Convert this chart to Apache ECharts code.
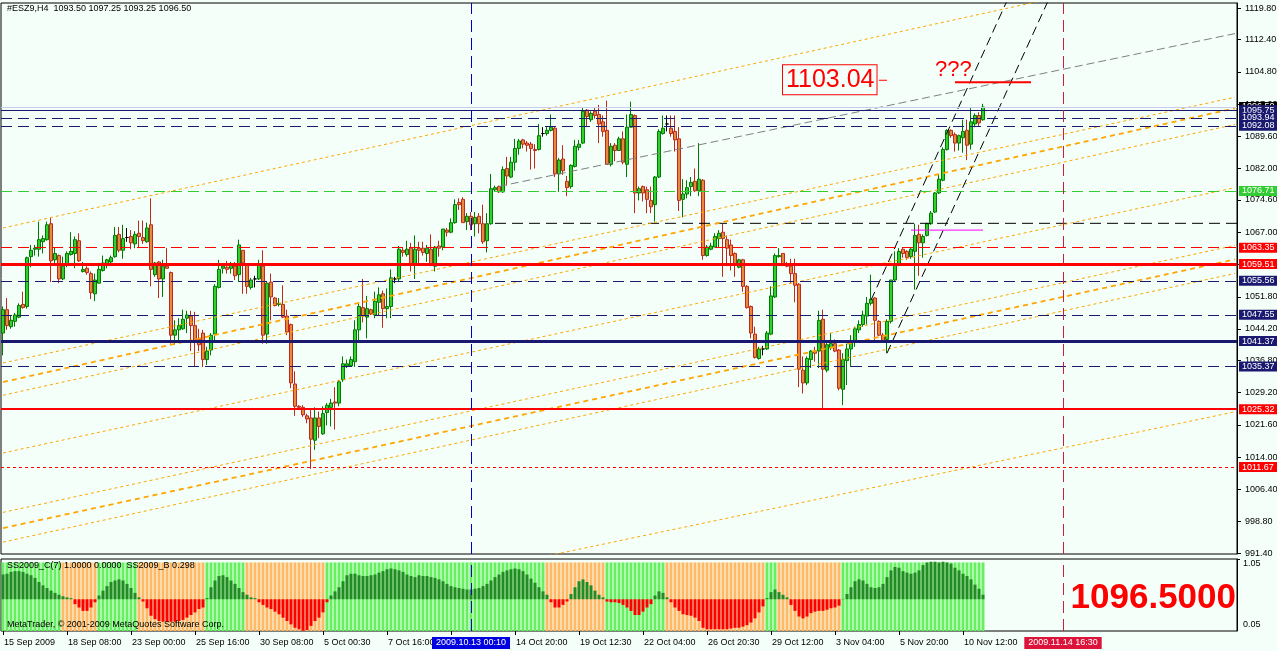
<!DOCTYPE html>
<html>
<head>
<meta charset="utf-8">
<title>#ESZ9,H4</title>
<script src="https://cdn.jsdelivr.net/npm/echarts@6/dist/echarts.min.js"></script>
<style>
  html, body { margin: 0; padding: 0; background: #F5FFFA; }
  #chart { width: 1277px; height: 651px; }
</style>
</head>
<body>
<div id="chart"></div>
<script>
// ---- H4 bars: [open, close, low, high] ----
const candles = [
  [1043.25,1048.75,1038.0,1049.5],[1048.75,1045.0,1044.0,1051.5],[1044.75,1046.25,1044.25,1047.5],[1046.0,1047.5,1044.75,1048.0],
  [1047.0,1049.75,1046.75,1050.25],[1050.0,1049.25,1049.0,1053.0],[1049.5,1061.0,1049.0,1061.25],[1061.25,1062.75,1058.75,1064.0],
  [1063.0,1063.25,1061.5,1064.0],[1063.0,1065.25,1061.25,1069.5],[1064.75,1065.5,1062.0,1066.25],[1065.25,1068.75,1065.0,1069.5],
  [1069.0,1060.25,1055.25,1070.5],[1060.5,1062.0,1059.25,1063.5],[1061.5,1056.0,1055.0,1061.75],[1056.0,1059.0,1055.75,1061.25],
  [1059.25,1062.0,1058.75,1062.5],[1061.75,1062.5,1061.5,1067.0],[1062.0,1065.25,1058.5,1066.0],[1065.0,1060.25,1060.0,1066.75],
  [1057.75,1058.25,1057.5,1060.0],[1058.5,1057.5,1057.0,1059.0],[1057.25,1052.75,1051.25,1057.75],[1052.5,1055.75,1050.75,1057.25],
  [1055.0,1058.25,1055.0,1059.75],[1058.0,1059.75,1057.75,1061.5],[1059.25,1060.5,1058.5,1060.75],[1060.0,1061.0,1059.75,1061.5],
  [1061.25,1066.25,1061.0,1068.25],[1066.5,1062.75,1062.25,1068.25],[1062.75,1065.5,1060.75,1068.75],[1065.75,1065.75,1064.75,1068.0],
  [1066.0,1064.5,1063.0,1067.5],[1064.25,1066.5,1063.25,1067.25],[1066.75,1066.0,1063.25,1069.75],[1065.75,1065.0,1064.25,1069.75],
  [1064.75,1068.0,1064.5,1069.25],[1068.75,1058.25,1054.25,1075.0],[1057.0,1059.75,1056.5,1060.0],[1060.0,1056.0,1051.5,1060.25],
  [1056.0,1059.0,1051.75,1060.5],[1059.0,1058.5,1058.5,1063.25],[1057.5,1042.75,1040.75,1057.75],[1042.75,1044.0,1040.5,1046.25],
  [1044.0,1045.0,1041.5,1046.75],[1044.25,1046.5,1044.0,1048.75],[1046.75,1047.5,1043.25,1048.5],[1047.25,1045.0,1039.0,1048.5],
  [1045.0,1041.5,1035.5,1048.25],[1041.75,1040.5,1039.0,1044.25],[1043.25,1037.0,1035.25,1044.0],[1037.0,1039.0,1035.75,1040.0],
  [1039.25,1042.75,1038.0,1043.25],[1043.0,1054.25,1041.5,1054.75],[1054.0,1058.25,1053.75,1060.5],[1058.5,1059.0,1057.25,1059.75],
  [1058.75,1058.25,1057.25,1060.25],[1058.5,1059.25,1057.25,1060.0],[1059.0,1056.75,1055.75,1060.0],[1057.0,1064.0,1055.25,1065.25],
  [1062.75,1059.75,1052.5,1062.75],[1059.5,1054.25,1052.5,1059.75],[1054.0,1055.75,1053.5,1056.25],[1056.0,1056.0,1054.0,1056.75],
  [1056.0,1059.25,1055.75,1060.5],[1059.0,1042.75,1040.75,1062.75],[1043.0,1055.0,1040.75,1055.25],[1055.25,1051.75,1046.25,1057.25],
  [1051.5,1049.75,1049.5,1051.75],[1050.0,1050.25,1049.5,1051.5],[1050.0,1047.0,1046.75,1054.5],[1047.25,1043.5,1042.75,1048.75],
  [1045.25,1031.5,1030.25,1045.5],[1031.25,1026.0,1023.75,1034.25],[1026.0,1025.75,1025.5,1026.25],[1025.75,1024.0,1023.5,1026.25],
  [1023.75,1023.0,1022.0,1024.25],[1023.25,1018.25,1011.25,1025.25],[1018.0,1023.25,1015.75,1025.75],[1023.25,1021.25,1018.5,1024.75],
  [1019.5,1024.25,1019.25,1026.0],[1024.5,1026.25,1021.5,1026.75],[1025.75,1026.75,1021.25,1027.75],[1027.0,1026.75,1020.5,1030.5],
  [1026.75,1031.75,1026.0,1032.25],[1032.25,1036.0,1031.75,1037.75],[1035.5,1036.0,1035.0,1037.0],[1035.5,1037.0,1035.25,1037.75],
  [1036.5,1044.0,1035.25,1046.25],[1044.0,1049.5,1041.5,1050.5],[1049.25,1047.25,1045.75,1056.0],[1047.0,1049.0,1042.0,1052.0],
  [1048.75,1047.75,1047.5,1049.0],[1047.5,1050.75,1046.75,1053.0],[1050.5,1052.25,1047.5,1054.0],[1052.5,1049.0,1044.5,1053.25],
  [1049.0,1049.5,1046.75,1053.75],[1049.5,1056.25,1046.75,1058.25],[1056.0,1056.0,1055.0,1056.5],[1056.0,1063.0,1055.25,1063.75],
  [1062.75,1062.25,1061.25,1063.5],[1061.75,1063.0,1061.25,1065.0],[1063.25,1059.25,1057.75,1064.5],[1059.25,1063.0,1056.0,1066.25],
  [1063.25,1062.75,1059.75,1064.75],[1063.25,1062.25,1061.5,1064.75],[1062.0,1063.25,1060.0,1064.0],[1063.0,1059.25,1059.0,1066.5],
  [1059.0,1063.5,1057.75,1063.75],[1063.75,1063.25,1061.25,1065.0],[1063.5,1067.75,1062.75,1067.75],[1067.5,1067.0,1066.0,1068.0],
  [1067.0,1069.25,1066.75,1070.25],[1069.25,1073.5,1069.0,1074.75],[1074.0,1073.5,1072.25,1075.0],[1074.75,1069.25,1069.25,1075.25],
  [1069.5,1070.75,1067.5,1071.5],[1070.75,1068.75,1067.5,1071.75],[1069.0,1070.5,1066.0,1071.75],[1070.75,1069.0,1066.75,1071.5],
  [1069.0,1064.75,1064.25,1073.5],[1065.0,1069.0,1062.25,1071.5],[1069.0,1077.25,1068.75,1080.75],[1077.0,1077.5,1076.5,1078.0],
  [1077.75,1076.5,1076.25,1078.0],[1076.5,1081.75,1076.25,1082.5],[1082.0,1080.25,1078.0,1084.75],[1080.0,1083.5,1079.75,1084.75],
  [1083.5,1086.75,1081.5,1089.0],[1086.75,1088.5,1085.25,1089.0],[1088.75,1087.75,1086.75,1089.0],[1088.0,1087.5,1086.0,1088.5],
  [1087.75,1086.75,1081.75,1088.25],[1086.5,1086.25,1082.0,1087.75],[1086.5,1089.75,1086.25,1092.5],[1090.25,1090.25,1089.5,1091.75],
  [1090.25,1091.0,1089.75,1092.0],[1091.0,1091.75,1090.75,1094.75],[1091.5,1080.75,1080.0,1092.0],[1080.75,1084.0,1076.5,1084.5],
  [1084.25,1081.5,1080.5,1087.5],[1079.0,1077.5,1075.5,1080.25],[1077.75,1082.75,1077.25,1083.0],[1082.5,1087.25,1082.25,1088.75],
  [1087.0,1087.75,1086.25,1088.75],[1088.0,1095.5,1087.75,1096.25],[1095.75,1094.25,1091.75,1096.0],[1093.5,1095.0,1093.0,1095.5],
  [1095.5,1094.5,1093.75,1096.25],[1094.75,1092.5,1088.0,1097.0],[1093.0,1090.75,1089.5,1094.5],[1091.0,1083.0,1083.0,1098.0],
  [1083.0,1087.25,1082.5,1088.0],[1087.5,1086.25,1083.75,1088.0],[1086.25,1089.0,1086.25,1089.5],[1089.0,1083.5,1083.0,1090.75],
  [1083.0,1091.75,1080.0,1094.75],[1091.75,1094.75,1091.75,1097.75],[1094.5,1076.25,1071.5,1094.75],[1076.25,1077.25,1074.5,1077.75],
  [1077.75,1076.25,1074.25,1078.0],[1077.0,1074.75,1071.5,1077.75],[1074.5,1073.0,1071.5,1077.75],[1073.5,1080.0,1069.5,1080.25],
  [1080.0,1090.75,1079.75,1091.25],[1090.25,1091.5,1090.0,1094.5],[1092.5,1092.5,1090.75,1094.5],[1091.5,1090.25,1089.5,1094.5],
  [1090.75,1088.75,1086.0,1094.5],[1089.0,1074.5,1072.0,1091.75],[1074.75,1076.0,1070.5,1079.5],[1076.0,1077.5,1075.0,1079.25],
  [1077.75,1078.75,1075.5,1080.0],[1079.0,1076.75,1076.5,1082.0],[1076.75,1079.5,1075.5,1088.0],[1079.25,1061.5,1060.5,1079.5],
  [1061.5,1063.5,1061.25,1064.0],[1063.0,1063.75,1062.75,1064.5],[1063.5,1066.0,1063.5,1066.75],[1065.5,1066.75,1063.5,1067.5],
  [1067.0,1065.5,1056.5,1069.0],[1065.25,1063.25,1059.0,1066.25],[1064.0,1061.5,1058.0,1065.25],[1062.0,1059.5,1056.5,1062.25],
  [1058.75,1060.5,1058.5,1060.75],[1060.5,1054.25,1053.0,1060.75],[1054.25,1049.25,1049.0,1054.5],[1049.5,1043.25,1042.0,1049.75],
  [1043.0,1037.5,1037.25,1044.75],[1037.25,1039.5,1037.0,1040.0],[1039.5,1039.5,1038.0,1040.25],[1039.5,1043.25,1039.25,1043.75],
  [1043.0,1052.0,1042.75,1054.25],[1051.75,1061.5,1051.5,1062.0],[1061.25,1061.5,1061.0,1063.25],[1062.0,1059.25,1059.0,1062.0],
  [1059.25,1059.0,1058.75,1060.0],[1059.0,1057.25,1055.0,1060.75],[1057.25,1054.5,1050.5,1060.75],[1054.75,1034.75,1030.5,1055.0],
  [1034.5,1031.5,1029.0,1037.75],[1031.5,1037.25,1031.0,1037.75],[1037.0,1039.0,1035.0,1039.25],[1039.0,1038.5,1036.5,1040.0],
  [1039.0,1046.25,1035.0,1048.5],[1046.5,1034.75,1025.5,1048.75],[1034.5,1040.5,1034.0,1041.25],[1039.75,1040.75,1039.25,1043.25],
  [1040.75,1039.0,1038.75,1041.75],[1039.25,1030.25,1029.75,1039.5],[1030.0,1037.0,1026.25,1038.5],[1036.75,1039.5,1031.0,1040.75],
  [1039.5,1041.5,1035.25,1042.75],[1041.5,1044.25,1040.0,1044.75],[1044.0,1045.25,1043.25,1046.25],[1045.25,1047.5,1044.75,1048.5],
  [1047.25,1050.25,1045.25,1051.75],[1050.25,1051.25,1049.75,1057.0],[1051.5,1046.25,1041.5,1051.75],[1046.0,1042.75,1042.5,1046.25],
  [1042.75,1041.5,1041.5,1043.25],[1041.75,1046.0,1038.5,1046.5],[1046.0,1055.75,1045.5,1055.75],[1055.75,1059.25,1055.5,1062.5],
  [1059.25,1062.5,1059.0,1063.25],[1063.0,1062.0,1061.0,1063.25],[1062.5,1061.0,1060.5,1062.75],[1061.25,1063.0,1060.75,1063.25],
  [1062.5,1066.25,1053.5,1069.0],[1066.5,1064.5,1056.75,1068.75],[1064.5,1066.0,1061.0,1066.5],[1066.25,1069.0,1066.0,1069.25],
  [1069.0,1071.5,1068.75,1072.0],[1071.75,1076.25,1071.5,1076.5],[1076.25,1079.5,1076.0,1080.5],[1079.25,1086.5,1079.0,1087.0],
  [1086.5,1091.0,1086.25,1091.25],[1091.0,1089.75,1089.25,1091.25],[1090.0,1088.0,1086.0,1090.5],[1088.0,1089.75,1086.25,1090.0],
  [1089.25,1090.75,1085.75,1093.5],[1091.0,1087.5,1084.0,1093.5],[1087.75,1093.0,1086.5,1096.25],[1092.5,1094.5,1091.75,1095.0],
  [1094.5,1092.75,1092.0,1095.25],[1093.5,1096.5,1093.25,1097.25]
];

// SS2009_C histogram, one value per bar
const osc = [
  0.66,0.68,0.73,0.75,0.75,0.73,0.68,0.64,0.57,0.46,
  0.37,0.30,0.23,0.17,0.12,0.08,0.05,0.03,-0.13,-0.22,
  -0.31,-0.31,-0.22,-0.08,0.10,0.23,0.35,0.46,0.50,0.53,
  0.50,0.41,0.30,0.17,0.05,-0.06,-0.24,-0.44,-0.53,-0.58,
  -0.60,-0.60,-0.60,-0.60,-0.58,-0.55,-0.49,-0.42,-0.35,-0.26,
  -0.22,0.03,0.32,0.50,0.62,0.64,0.59,0.50,0.41,0.30,
  0.19,0.12,0.05,0.03,-0.08,-0.15,-0.22,-0.26,-0.33,-0.40,
  -0.49,-0.58,-0.67,-0.76,-0.80,-0.84,-0.82,-0.71,-0.58,-0.49,
  -0.35,-0.08,0.10,0.21,0.32,0.48,0.64,0.68,0.68,0.64,
  0.62,0.62,0.64,0.66,0.71,0.75,0.80,0.82,0.80,0.77,
  0.73,0.66,0.62,0.59,0.64,0.62,0.62,0.59,0.57,0.53,
  0.48,0.41,0.35,0.32,0.30,0.28,0.26,0.26,0.28,0.30,
  0.35,0.41,0.50,0.59,0.66,0.73,0.77,0.80,0.82,0.80,
  0.75,0.66,0.55,0.44,0.32,0.21,0.12,-0.08,-0.22,-0.22,
  -0.15,-0.06,0.14,0.32,0.48,0.53,0.46,0.37,0.23,0.12,
  0.05,-0.06,-0.08,-0.08,-0.10,-0.15,-0.22,-0.31,-0.42,-0.42,
  -0.33,-0.22,-0.13,0.10,0.21,0.17,0.05,-0.08,-0.22,-0.31,
  -0.40,-0.42,-0.44,-0.49,-0.58,-0.76,-0.80,-0.80,-0.80,-0.80,
  -0.80,-0.80,-0.78,-0.76,-0.76,-0.73,-0.69,-0.62,-0.51,-0.35,
  -0.19,0.03,0.19,0.26,0.19,0.12,0.05,-0.15,-0.31,-0.46,
  -0.51,-0.46,-0.37,-0.33,-0.31,-0.31,-0.28,-0.24,-0.22,-0.17,
  0.01,0.14,0.32,0.48,0.53,0.50,0.41,0.32,0.30,0.32,
  0.41,0.59,0.77,0.86,0.84,0.75,0.71,0.68,0.71,0.77,
  0.91,0.98,1.00,1.00,0.98,1.00,0.98,0.95,0.84,0.77,
  0.68,0.62,0.53,0.39,0.28,0.12
];

// SS2009_B state per bar range: g = green band, o = orange band
const bandSpans = [
  [0,14,'g'],[15,23,'o'],[24,33,'g'],[34,50,'o'],[51,60,'g'],[61,80,'o'],[81,135,'g'],
  [136,150,'o'],[151,165,'g'],[166,190,'o'],[191,193,'g'],[194,209,'o'],[210,245,'g']
];

const priceTicks = [991.4,998.8,1006.4,1014.0,1021.6,1029.2,1036.8,1044.2,1051.8,1059.4,1067.0,1074.6,1082.0,1089.6,1097.2,1104.8,1112.4,1119.8];
const oscTicks = [0, 0.05, 1.05];
// one time label every 16 bars (null = hidden under the cursor date box)
const timeLabels = ['15 Sep 2009','18 Sep 08:00','23 Sep 00:00','25 Sep 16:00','30 Sep 08:00','5 Oct 00:30','7 Oct 16:00',null,
  '14 Oct 20:00','19 Oct 12:30','22 Oct 04:00','26 Oct 20:30','29 Oct 12:00','3 Nov 04:00','5 Nov 20:00','10 Nov 12:00'];

// horizontal levels
const bidPrice = 1096.50;
const navyLevels = [1095.75, 1093.94, 1092.08, 1055.56, 1047.55, 1041.37, 1035.37];
const greenLevels = [1076.71];
const redLevels = [1063.35, 1059.51, 1025.32, 1011.67];
const blackLevel = [[123, 1069.1], [308.5, 1069.1]];

// vertical markers (bar index) and their date boxes
const cursorBars = [117, 265];
const cursorDates = ['2009.10.13 00:10', '2009.11.14 16:30'];

// trend objects, endpoints as [bar index, price]
const orangeThin = [
  [[0,1068.0],[308,1131.5]],
  [[0,1036.2],[308,1098.8]],
  [[0,1028.6],[308,1092.4]],
  [[0,1015.0],[308,1077.5]],
  [[0,1001.0],[308,1063.9]],
  [[0,994.0],[308,1057.3]],
  [[0,963.9],[308,1024.7]]
];
const orangeThick = [
  [[0,1031.7],[308,1096.2]],
  [[0,997.3],[308,1060.6]]
];
const grayTrend = [[124,1077.8],[308,1113.8]];
const blackChannel = [
  [[217.25,1051.0],[252,1123.6]],
  [[221,1038.5],[262,1123.0]]
];
const magentaLine = [[227,1067.5],[245,1067.5]];
const targetLine = [[238,1102.35],[257.25,1102.35]];
const targetTick = [[218.75,1102.8],[221.25,1102.8]];
const targetText = '1103.04';
const targetAnchor = [195, 1102.9];
const questionAnchor = [232.5, 1105.3];
const lastClose = '1096.5000';

// ---- chart ----
const FONT = 'Liberation Sans, Arial, sans-serif';
const SLOTS = 309;
const slotNames = Array.from({ length: SLOTS }, (_, i) => String(i));
const NAVY = '#191970', RED = '#ff0000', LIME = '#32cd32', ORANGE = '#ffa500';

const bandColor = { g: '#66f060', o: '#ffb964' };
const bandData = [];
bandSpans.forEach(([a, b, k]) => {
  for (let i = a; i <= b; i++) bandData[i] = { value: 1, itemStyle: { color: bandColor[k] } };
});

function levelLine(price, color, width, type, withLabel) {
  return {
    yAxis: price,
    lineStyle: { color, width, type },
    label: withLabel === false ? { show: false } : {
      show: true, position: 'end', distance: 2,
      formatter: price.toFixed(2), color: '#fff', backgroundColor: color,
      padding: [1, 4, 0, 3], fontSize: 9, fontFamily: FONT
    }
  };
}

const DASH = [11, 6];
const levelData = [
  levelLine(bidPrice, '#000', 1, 'solid'),
  ...navyLevels.map(p => levelLine(p, NAVY, (p === 1041.37) ? 3 : 1,
    (p === 1095.75 || p === 1041.37) ? 'solid' : DASH)),
  ...greenLevels.map(p => levelLine(p, LIME, 1, DASH)),
  ...redLevels.map(p => levelLine(p, RED,
    p === 1059.51 ? 3 : (p === 1025.32 ? 2 : 1),
    p === 1063.35 ? DASH : (p === 1011.67 ? [3, 3] : 'solid')))
];
// the bid line itself is light; its label stays black
levelData[0].lineStyle.color = '#c8cdf0';

function seg(data, color, width, type, z) {
  return {
    type: 'line', xAxisIndex: 0, yAxisIndex: 0, data, symbol: 'none',
    lineStyle: { color, width, type }, clip: true, silent: true, z: z || 3,
    animation: false
  };
}

const series = [
  {
    type: 'candlestick', xAxisIndex: 0, yAxisIndex: 0, data: candles, barWidth: 3,
    itemStyle: {
      color: '#2fd12f', color0: '#e8883c',
      borderColor: '#007a00', borderColor0: '#c0281e', borderColorDoji: '#000', borderWidth: 1
    },
    z: 2,
    markLine: {
      symbol: 'none', silent: true, animation: false,
      data: [
        ...levelData,
        { xAxis: cursorBars[0], lineStyle: { color: '#0000c8', width: 1, type: [12, 6] }, label: { show: false } },
        { xAxis: cursorBars[1], lineStyle: { color: '#c8203c', width: 1, type: [12, 6] }, label: { show: false } }
      ]
    }
  },
  seg(blackLevel, '#000', 1, DASH),
  ...orangeThin.map(d => seg(d, ORANGE, 1, [3, 3])),
  ...orangeThick.map(d => seg(d, ORANGE, 1.8, [5, 4])),
  seg(grayTrend, '#808080', 1, [8, 4]),
  ...blackChannel.map(d => seg(d, '#000', 1, [9, 5])),
  seg(magentaLine, '#ff00ff', 1, 'solid'),
  seg(targetLine, RED, 2, 'solid'),
  seg(targetTick, RED, 1, 'solid'),
  {
    type: 'bar', xAxisIndex: 1, yAxisIndex: 1, data: bandData, barWidth: 3,
    silent: true, animation: false
  },
  {
    type: 'bar', xAxisIndex: 1, yAxisIndex: 2, barWidth: 3, barGap: '-100%', silent: true, animation: false,
    data: osc.map(v => ({ value: v, itemStyle: { color: v >= 0 ? '#238b23' : '#ff0000' } })),
    markLine: {
      symbol: 'none', silent: true, animation: false, label: { show: false },
      data: [
        { xAxis: cursorBars[0], lineStyle: { color: '#0000c8', width: 1, type: [12, 6] } },
        { xAxis: cursorBars[1], lineStyle: { color: '#c8203c', width: 1, type: [12, 6] } }
      ]
    }
  }
];

const tickEvery16 = i => i % 16 === 0 && i <= 240;

const option = {
  animation: false,
  backgroundColor: '#F5FFFA',
  textStyle: { fontFamily: FONT },
  grid: [
    { left: 1, top: 3, width: 1236, height: 551, show: true, borderColor: '#000', borderWidth: 1, backgroundColor: '#F5FFFA', outerBoundsMode: 'none' },
    { left: 1, top: 559, width: 1236, height: 72, show: true, borderColor: '#000', borderWidth: 1, backgroundColor: '#F5FFFA', outerBoundsMode: 'none' }
  ],
  xAxis: [
    { type: 'category', gridIndex: 0, data: slotNames, boundaryGap: true, show: false },
    {
      type: 'category', gridIndex: 1, data: slotNames, boundaryGap: true, position: 'bottom',
      axisLine: { show: false },
      axisTick: { show: true, alignWithLabel: true, interval: tickEvery16, length: 4, lineStyle: { color: '#000' } },
      axisLabel: {
        show: true, interval: i => tickEvery16(i) && timeLabels[i / 16] != null,
        formatter: (v, i) => timeLabels[Number(v) / 16] || '',
        align: 'left', padding: [0, 0, 0, 1], margin: 7,
        color: '#000', fontSize: 9, fontFamily: FONT
      },
      splitLine: { show: false }
    }
  ],
  yAxis: [
    {
      type: 'value', gridIndex: 0, position: 'right', min: 991.2, max: 1121.0,
      splitLine: { show: false },
      axisLine: { show: true, lineStyle: { color: '#000' } },
      axisTick: { show: true, customValues: priceTicks, length: 4, lineStyle: { color: '#000' } },
      axisLabel: {
        customValues: priceTicks, formatter: v => v.toFixed(2), margin: 8,
        color: '#000', fontSize: 9, fontFamily: FONT
      }
    },
    {
      type: 'value', gridIndex: 1, position: 'right', min: 0, max: 1.05,
      splitLine: { show: false },
      axisLine: { show: true, lineStyle: { color: '#000' } },
      axisTick: { show: true, customValues: [0, 1.05], length: 3, lineStyle: { color: '#000' } },
      axisLabel: {
        customValues: oscTicks, margin: 6, color: '#000', fontSize: 9, fontFamily: FONT,
        formatter: v => v === 1.05 ? '{t|1.05}' : '{b|' + v.toFixed(2) + '}',
        rich: { t: { padding: [10, 0, 0, 0] }, b: { padding: [0, 0, 6, 0] } }
      }
    },
    { type: 'value', gridIndex: 1, min: -0.846, max: 1.073, show: false }
  ],
  series
};

const chart = echarts.init(document.getElementById('chart'));
chart.setOption(option);

// text objects placed from data coordinates
const at = (i, p) => chart.convertToPixel({ gridIndex: 0 }, [i, p]);
const xOf = i => chart.convertToPixel({ xAxisIndex: 1 }, i);
const tp = at(targetAnchor[0], targetAnchor[1]);
const qp = at(questionAnchor[0], questionAnchor[1]);

chart.setOption({
  graphic: [
    { type: 'text', left: 7, top: 4, z: 100, style: { text: '#ESZ9,H4  1093.50 1097.25 1093.25 1096.50', fill: '#000', font: '9px ' + FONT } },
    { type: 'text', left: 7, top: 561, z: 100, style: { text: 'SS2009_C(7) 1.0000 0.0000  SS2009_B 0.298', fill: '#000', font: '9px ' + FONT } },
    { type: 'text', left: 7, top: 620, z: 100, style: { text: 'MetaTrader, \u00a9 2001-2009 MetaQuotes Software Corp.', fill: '#000', font: '9px ' + FONT } },
    { type: 'text', x: 1236, y: 598, z: 100, style: { text: lastClose, fill: RED, font: 'bold 35px ' + FONT, align: 'right', verticalAlign: 'middle' } },
    {
      type: 'text', x: tp[0], y: tp[1], z: 100,
      style: {
        text: targetText, fill: RED, font: '25px ' + FONT, align: 'left', verticalAlign: 'middle',
        backgroundColor: '#F5FFFA', borderColor: RED, borderWidth: 1, padding: [3, 2, 1, 3]
      }
    },
    { type: 'text', x: qp[0], y: qp[1], z: 100, style: { text: '???', fill: RED, font: '22px ' + FONT, align: 'left', verticalAlign: 'middle' } },
    ...cursorBars.map((b, k) => ({
      type: 'text', x: xOf(b), y: 643, z: 100,
      style: {
        text: cursorDates[k], fill: '#fff', font: '9px ' + FONT, align: 'center', verticalAlign: 'middle',
        backgroundColor: k === 0 ? '#0000e0' : '#dc143c', padding: [2, 4, 1, 4]
      }
    }))
  ]
});
</script>
</body>
</html>
